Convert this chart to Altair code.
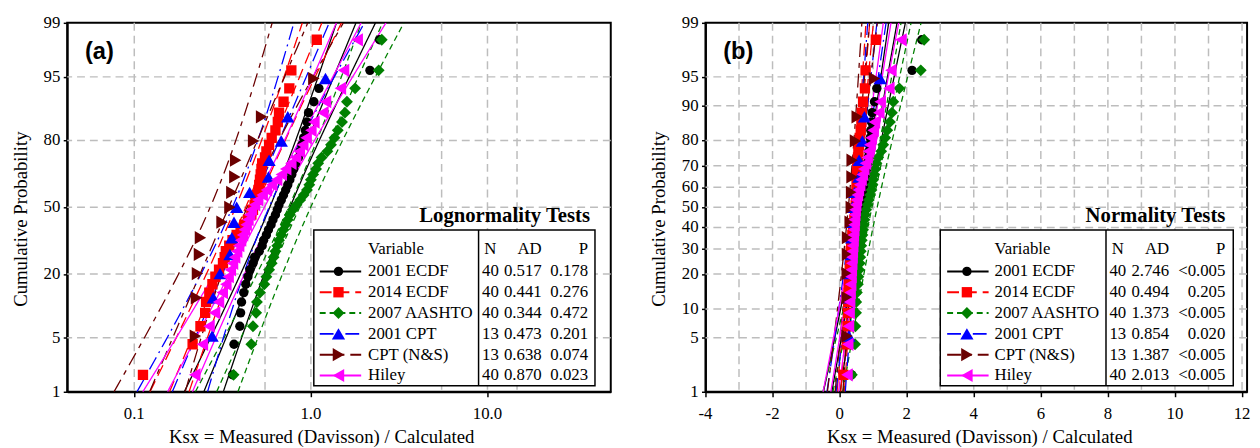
import altair as alt
import numpy as np
import pandas as pd
from statistics import NormalDist

SERIES = ["2001 ECDF", "2014 ECDF", "2007 AASHTO", "2001 CPT", "CPT (N&S)", "Hiley"]
COLORS = ["#000000", "#FF0000", "#008000", "#0000FF", "#6B0000", "#FF00FF"]
SHAPES = ["circle", "square", "diamond", "triangle-up", "triangle-right", "triangle-left"]
MARKER_SIZES = [90, 110, 145, 180, 180, 180]
DASHES = [[1, 0], [12, 6], [6, 4], [14, 5, 2, 5], [14, 6, 5, 6], [1, 0]]

KSX_2001_ECDF = [0.36, 0.367, 0.396, 0.40, 0.405, 0.417, 0.428, 0.44, 0.451, 0.47,
                 0.48, 0.51, 0.53, 0.54, 0.56, 0.575, 0.595, 0.61, 0.63, 0.645,
                 0.66, 0.68, 0.70, 0.72, 0.74, 0.76, 0.78, 0.80, 0.82, 0.85,
                 0.87, 0.89, 0.91, 0.93, 0.95, 0.97, 1.04, 1.11, 2.16, 2.45]
KSX_2014_ECDF = [0.112, 0.214, 0.237, 0.252, 0.255, 0.266, 0.277, 0.288, 0.302, 0.318,
                 0.325, 0.33, 0.345, 0.36, 0.38, 0.40, 0.42, 0.44, 0.46, 0.47,
                 0.48, 0.49, 0.50, 0.505, 0.51, 0.515, 0.52, 0.525, 0.53, 0.55,
                 0.56, 0.58, 0.60, 0.63, 0.65, 0.66, 0.70, 0.755, 0.775, 1.08]
KSX_2007_AASHTO = [0.365, 0.46, 0.47, 0.49, 0.495, 0.515, 0.545, 0.56, 0.58, 0.60,
                   0.615, 0.63, 0.645, 0.66, 0.68, 0.70, 0.72, 0.74, 0.76, 0.79,
                   0.83, 0.87, 0.91, 0.95, 0.98, 1.0, 1.03, 1.07, 1.1, 1.15,
                   1.24, 1.3, 1.36, 1.42, 1.5, 1.56, 1.6, 1.78, 2.42, 2.52]
KSX_2001_CPT = [0.276, 0.28, 0.306, 0.348, 0.357, 0.367, 0.38, 0.45, 0.575, 0.58, 0.68, 0.74, 1.21]
KSX_CPT_NS = [0.222, 0.225, 0.228, 0.234, 0.237, 0.314, 0.348, 0.357, 0.371, 0.375, 0.474, 0.526, 1.04]
KSX_HILEY = [0.22, 0.243, 0.265, 0.285, 0.30, 0.315, 0.33, 0.34, 0.35, 0.36,
             0.37, 0.38, 0.39, 0.40, 0.41, 0.42, 0.43, 0.44, 0.45, 0.46,
             0.48, 0.50, 0.53, 0.56, 0.60, 0.64, 0.68, 0.72, 0.77, 0.82,
             0.86, 0.90, 0.94, 1.0, 1.04, 1.17, 1.21, 1.47, 1.53, 1.83]
SERIES_VALUES = [KSX_2001_ECDF, KSX_2014_ECDF, KSX_2007_AASHTO, KSX_2001_CPT, KSX_CPT_NS, KSX_HILEY]

N_COUNTS = ["40", "40", "40", "13", "13", "40"]
AD_LOGNORMAL = ["0.517", "0.441", "0.344", "0.473", "0.638", "0.870"]
P_LOGNORMAL = ["0.178", "0.276", "0.472", "0.201", "0.074", "0.023"]
AD_NORMAL = ["2.746", "0.494", "1.373", "0.854", "1.387", "2.013"]
P_NORMAL = ["<0.005", "0.205", "<0.005", "0.020", "<0.005", "<0.005"]

Y_TICKS_A = [1, 5, 20, 50, 80, 95, 99]
Y_TICKS_B = [1, 5, 10, 20, 30, 40, 50, 60, 70, 80, 90, 95, 99]
Y_GRID_A = [5, 20, 50, 80, 95]
Y_GRID_B = [5, 10, 20, 30, 40, 50, 60, 70, 80, 90, 95]
X_TICKS_A = [0.1, 1.0, 10.0]
X_TICK_LABELS_A = ["0.1", "1.0", "10.0"]
X_TICKS_B = [-4, -2, 0, 2, 4, 6, 8, 10, 12]
X_TICK_LABELS_B = ["-4", "-2", "0", "2", "4", "6", "8", "10", "12"]
X_GRID_A = [0.1, 0.55, 1.0, 5.5, 10.0, 14.7]
X_GRID_B = list(range(-3, 13))

X_TITLE = "Ksx = Measured (Davisson) / Calculated"
Y_TITLE = "Cumulative Probability"

SERIF = "Liberation Serif"
ND = NormalDist()
Z_LO, Z_HI = ND.inv_cdf(0.01), ND.inv_cdf(0.99)

rows = []
for k, (name, vals) in enumerate(zip(SERIES, SERIES_VALUES)):
    for v in vals:
        rows.append({"series": name, "k": k, "Ksx": v})
points_df = pd.DataFrame(rows)


def fit_lines(log):
    recs = []
    zs = np.linspace(Z_LO, Z_HI, 61)
    for k, (name, vals) in enumerate(zip(SERIES, SERIES_VALUES)):
        a = np.log10(vals) if log else np.array(vals, dtype=float)
        n = len(a)
        m, s = a.mean(), a.std(ddof=1)
        for z in zs:
            c = m + z * s
            h = 1.959964 * s * np.sqrt((1 + z * z / 2) / n)
            for j, val in enumerate((c - h, c, c + h)):
                recs.append({"series": name, "k": k, "band": j, "z": z,
                             "Ksx": 10 ** val if log else val})
    return pd.DataFrame(recs)


legend_df = pd.DataFrame({
    "series": SERIES, "k": list(range(6)), "N": N_COUNTS,
    "AD_a": AD_LOGNORMAL, "P_a": P_LOGNORMAL, "AD_b": AD_NORMAL, "P_b": P_NORMAL,
})

color_scale = alt.Scale(domain=SERIES, range=COLORS)
dash_scale = alt.Scale(domain=SERIES, range=DASHES)
GRID_STYLE = dict(color="#BDBDBD", strokeWidth=1.5, strokeDash=[8, 5])
TXT = dict(font=SERIF, fontSize=17, color="black")


def panel(kind):
    log = kind == "a"
    if log:
        xscale = alt.Scale(type="log", domain=[0.0417, 49.9], nice=False)
        xticks, xlabels = X_TICKS_A, X_TICK_LABELS_A
        xgrid, ygrid, yticks = X_GRID_A, Y_GRID_A, Y_TICKS_A
        lay = dict(title="Lognormality Tests", title_x=530, box=(250, 535), div=417,
                   sym=(256, 298, 275), name_x=305, n_x=429, ad_x=481, p_x=528,
                   ad="AD_a", p="P_a", tag="(a)", xt=258)
        width = 551
    else:
        xscale = alt.Scale(domain=[-4, 12.15], nice=False, zero=False)
        xticks, xlabels = X_TICKS_B, X_TICK_LABELS_B
        xgrid, ygrid, yticks = X_GRID_B, Y_GRID_B, Y_TICKS_B
        lay = dict(title="Normality Tests", title_x=527, box=(238, 535), div=406,
                   sym=(245, 287, 265), name_x=293, n_x=418, ad_x=470, p_x=527,
                   ad="AD_b", p="P_b", tag="(b)", xt=278)
        width = 549

    xaxis = alt.Axis(values=xticks, labels=False, title=None, grid=False)
    yscale = alt.Scale(domain=[Z_LO, Z_HI], nice=False, zero=False)
    yaxis = alt.Axis(values=[ND.inv_cdf(p / 100) for p in yticks], labels=False,
                     title=None, grid=False, tickSize=4)

    X = alt.X("Ksx:Q", scale=xscale, axis=xaxis)
    Y = alt.Y("z:Q", scale=yscale, axis=yaxis)

    vgrid = alt.Chart(pd.DataFrame({"g": xgrid})).mark_rule(**GRID_STYLE).encode(
        x=alt.X("g:Q", scale=xscale, axis=xaxis))
    hgrid = alt.Chart(pd.DataFrame({"p": ygrid})).transform_calculate(
        z="quantileNormal(datum.p / 100)"
    ).mark_rule(**GRID_STYLE).encode(y=Y)

    lines = alt.Chart(fit_lines(log)).mark_line(clip=True, strokeWidth=1.3).encode(
        x=X, y=Y,
        color=alt.Color("series:N", scale=color_scale, legend=None),
        strokeDash=alt.StrokeDash("series:N", scale=dash_scale, legend=None),
        detail="band:N",
        order="z:Q",
    )

    pt_layers = []
    for k, name in enumerate(SERIES):
        pt_layers.append(
            alt.Chart(points_df).transform_filter(
                alt.datum.series == name
            ).transform_window(
                ri="row_number()", sort=[alt.SortField("Ksx")]
            ).transform_joinaggregate(
                n="count()"
            ).transform_calculate(
                z="quantileNormal((datum.ri - 0.3) / (datum.n + 0.4))"
            ).mark_point(filled=True, opacity=1, clip=True, shape=SHAPES[k],
                         size=MARKER_SIZES[k], color=COLORS[k], strokeWidth=0).encode(
                x=X, y=Y)
        )

    # tick labels and axis titles as text marks
    ylab = alt.Chart(pd.DataFrame({"p": yticks})).transform_calculate(
        z="quantileNormal(datum.p / 100)"
    ).mark_text(align="right", baseline="middle", **TXT).encode(
        x=alt.value(-7), y=Y, text="p:N")
    xlab = alt.Chart(pd.DataFrame({"Ksx": xticks, "lab": xlabels})).mark_text(
        align="center", baseline="middle", **TXT).encode(
        x=X, y=alt.value(397), text="lab:N")
    ytitle = alt.Chart(pd.DataFrame({"t": [Y_TITLE]})).mark_text(
        align="center", baseline="middle", angle=270, font=SERIF, fontSize=19, color="black"
    ).encode(x=alt.value(-47), y=alt.value(199), text="t:N")
    xtitle = alt.Chart(pd.DataFrame({"t": [X_TITLE]})).mark_text(
        align="center", baseline="middle", font=SERIF, fontSize=19, color="black"
    ).encode(x=alt.value(lay["xt"]), y=alt.value(420), text="t:N")

    tag = alt.Chart(pd.DataFrame({"t": [lay["tag"]]})).mark_text(
        align="left", baseline="middle", font="Liberation Sans", fontWeight="bold", fontSize=24
    ).encode(x=alt.value(18), y=alt.value(30), text="t:N")

    ttl = alt.Chart(pd.DataFrame({"t": [lay["title"]]})).mark_text(
        align="right", baseline="alphabetic", font=SERIF, fontWeight="bold", fontSize=21
    ).encode(x=alt.value(lay["title_x"]), y=alt.value(202), text="t:N")

    box = alt.Chart(pd.DataFrame({"t": [0]})).mark_rect(
        fill="white", stroke="black", strokeWidth=1.5
    ).encode(x=alt.value(lay["box"][0]), x2=alt.value(lay["box"][1]),
             y=alt.value(210), y2=alt.value(368))
    div = alt.Chart(pd.DataFrame({"t": [0]})).mark_rule(color="black", strokeWidth=1.5).encode(
        x=alt.value(lay["div"]), y=alt.value(210), y2=alt.value(368))

    hdr_layers = []
    for t, a, xx in [("Variable", "left", lay["name_x"]), ("N", "center", lay["n_x"]),
                     ("AD", "right", lay["ad_x"]), ("P", "right", lay["p_x"])]:
        hdr_layers.append(
            alt.Chart(pd.DataFrame({"t": [t]})).mark_text(
                align=a, baseline="middle", **TXT
            ).encode(x=alt.value(xx), y=alt.value(229), text="t:N"))

    leg = alt.Chart(legend_df).transform_calculate(ly="252 + 21.1 * datum.k")
    LY = alt.Y("ly:Q", scale=None)
    sym_line = leg.mark_rule(strokeWidth=2).encode(
        x=alt.value(lay["sym"][0]), x2=alt.value(lay["sym"][1]), y=LY,
        color=alt.Color("series:N", scale=color_scale, legend=None),
        strokeDash=alt.StrokeDash("series:N", scale=dash_scale, legend=None))
    sym_pts = []
    for k, name in enumerate(SERIES):
        sym_pts.append(
            leg.transform_filter(alt.datum.k == k).mark_point(
                filled=True, opacity=1, shape=SHAPES[k], size=MARKER_SIZES[k],
                color=COLORS[k], strokeWidth=0
            ).encode(x=alt.value(lay["sym"][2]), y=LY))
    names = leg.mark_text(align="left", baseline="middle", **TXT).encode(
        x=alt.value(lay["name_x"]), y=LY, text="series:N")
    ns = leg.mark_text(align="center", baseline="middle", **TXT).encode(
        x=alt.value(lay["n_x"]), y=LY, text="N:N")
    ads = leg.mark_text(align="right", baseline="middle", **TXT).encode(
        x=alt.value(lay["ad_x"]), y=LY, text=f"{lay['ad']}:N")
    ps = leg.mark_text(align="right", baseline="middle", **TXT).encode(
        x=alt.value(lay["p_x"]), y=LY, text=f"{lay['p']}:N")

    return alt.layer(vgrid, hgrid, lines, *pt_layers, ylab, xlab, ytitle, xtitle,
                     tag, ttl, box, div, *hdr_layers,
                     sym_line, *sym_pts, names, ns, ads, ps).properties(width=width, height=374)


chart = alt.hconcat(panel("a"), panel("b"), spacing=37).properties(
    padding={"left": 3, "top": 2, "right": 0, "bottom": 0}
).configure_view(
    stroke="black", strokeWidth=2
).configure_axis(
    domainColor="black", domainWidth=2, tickColor="black", tickWidth=1.5, tickSize=5,
)

chart.save("out.html", embed_options={"renderer": "svg", "actions": False})
